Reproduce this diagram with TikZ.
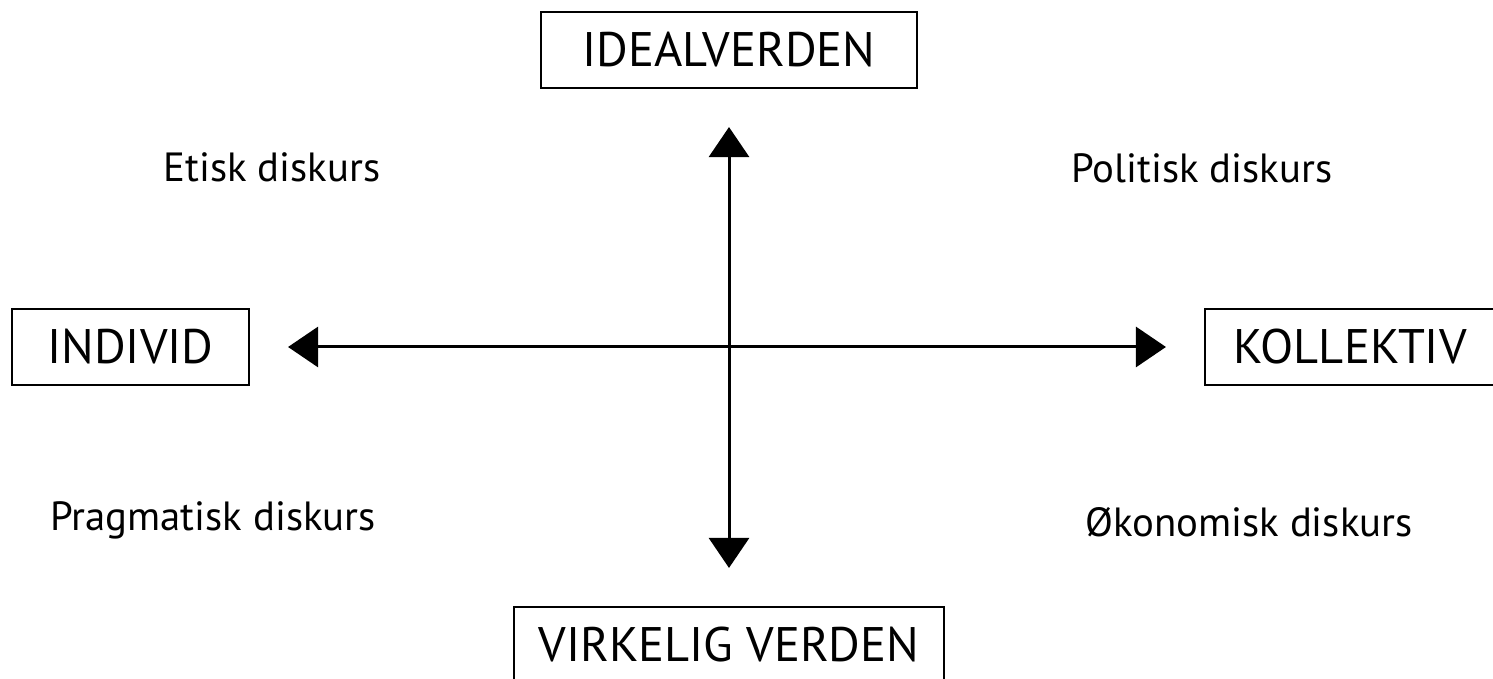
\documentclass[tikz,border=0pt]{standalone}
\usepackage{fontspec}
\setmainfont{PT Sans}
\usetikzlibrary{arrows.meta}
\begin{document}
\begin{tikzpicture}[
    boks/.style={draw, line width=0.6pt, minimum height=0.76cm, inner sep=0pt, font=\fontsize{13.8}{16}\selectfont},
    diskurs/.style={font=\fontsize{11.6}{13}\selectfont},
    akse/.style={line width=0.85pt, {Triangle[length=0.3cm,width=0.4cm]}-{Triangle[length=0.3cm,width=0.4cm]}, shorten >=0.38cm, shorten <=0.38cm}]
                 \useasboundingbox (0,0) rectangle (14.93,6.79);
                 \node[boks, minimum width=3.76cm] (ideal) at (7.29,6.29) {IDEALVERDEN};
                 \node[boks, minimum width=4.30cm] (virkelig) at (7.29,0.34) {VIRKELIG VERDEN};
                 \node[boks, minimum width=2.37cm] (individ) at (1.305,3.32) {INDIVID};
                 \node[boks, minimum width=2.90cm] (kollektiv) at (13.50,3.32) {KOLLEKTIV};
                 \draw[akse] (ideal) -- (virkelig);
                 \draw[akse] (individ) -- (kollektiv);
                 \node[diskurs] (etisk) at (2.72,5.12) {Etisk diskurs};
                 \node[diskurs] (politisk) at (12.02,5.11) {Politisk diskurs};
                 \node[diskurs] (pragmatisk) at (2.13,1.59) {Pragmatisk diskurs};
                 \node[diskurs] (okonomisk) at (12.49,1.57) {Økonomisk diskurs};
            \end{tikzpicture}
\end{document}
